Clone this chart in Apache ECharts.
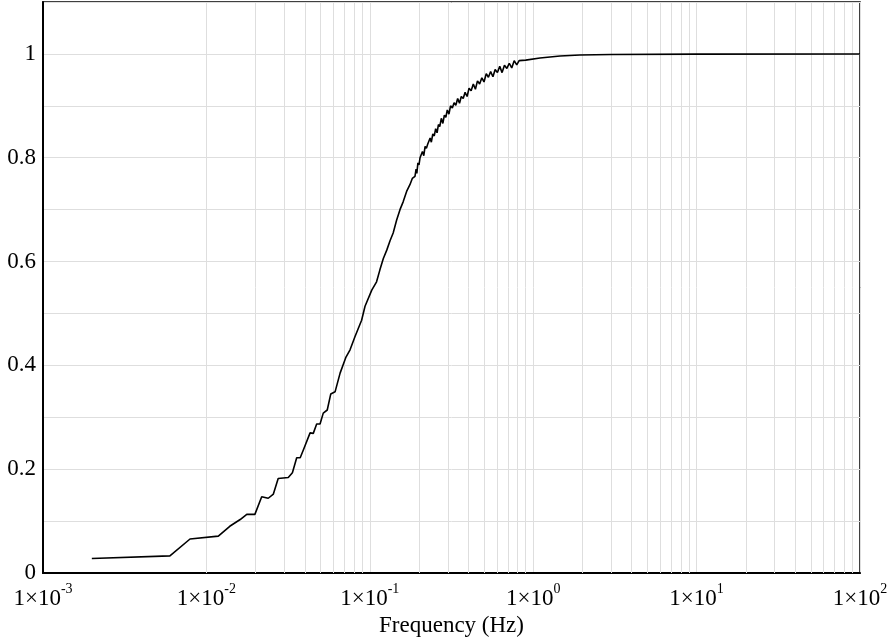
<!DOCTYPE html>
<html>
<head>
<meta charset="utf-8">
<script src="https://cdn.jsdelivr.net/npm/echarts@6/dist/echarts.min.js"></script>
<style>
html,body{margin:0;padding:0;background:#fff;}
#chart{width:892px;height:638px;}
</style>
</head>
<body>
<div id="chart"></div>
<script>
// Frequency (Hz)
var frequency = [
  0.00199, 0.00598, 0.00794, 0.01183, 0.0139, 0.0161, 0.01766, 0.0198, 0.0218, 0.0239,
  0.0257, 0.0275, 0.0317, 0.0336, 0.0357, 0.0375, 0.0392, 0.0431, 0.0451, 0.0473,
  0.0496, 0.0519, 0.0549, 0.0577, 0.0613, 0.0658, 0.0715, 0.0757, 0.0811, 0.0891,
  0.0935, 0.0958, 0.1028, 0.110, 0.1153, 0.121, 0.127, 0.133, 0.139, 0.146,
  0.153, 0.160, 0.168, 0.176, 0.182, 0.189, 0.192, 0.194, 0.197, 0.200,
  0.203, 0.206, 0.210, 0.214, 0.218, 0.222, 0.226, 0.230, 0.234, 0.238,
  0.243, 0.248, 0.253, 0.258, 0.263, 0.268, 0.274, 0.280, 0.286, 0.292,
  0.298, 0.305, 0.312, 0.320, 0.328, 0.336, 0.345, 0.354, 0.363, 0.373,
  0.383, 0.394, 0.405, 0.417, 0.430, 0.443, 0.456, 0.470, 0.485, 0.500,
  0.516, 0.532, 0.549, 0.567, 0.585, 0.604, 0.624, 0.645, 0.667, 0.690,
  0.714, 0.739, 0.765, 0.793, 0.82, 0.9, 1.10, 1.46, 1.93, 3,
  10, 100
];
var response = [
  0.028, 0.033, 0.0655, 0.071, 0.090, 0.103, 0.113, 0.113, 0.147, 0.144,
  0.152, 0.182, 0.184, 0.193, 0.222, 0.222, 0.237, 0.270, 0.269, 0.287,
  0.287, 0.308, 0.314, 0.345, 0.349, 0.385, 0.416, 0.430, 0.455, 0.487,
  0.514, 0.516, 0.545, 0.561, 0.584, 0.606, 0.622, 0.640, 0.655, 0.680,
  0.700, 0.715, 0.735, 0.748, 0.760, 0.764, 0.778, 0.770, 0.790, 0.786,
  0.800, 0.797, 0.812, 0.804, 0.822, 0.818, 0.826, 0.824, 0.838, 0.830,
  0.846, 0.842, 0.856, 0.848, 0.864, 0.860, 0.876, 0.866, 0.882, 0.878,
  0.892, 0.884, 0.900, 0.896, 0.906, 0.901, 0.914, 0.905, 0.918, 0.914,
  0.926, 0.918, 0.934, 0.929, 0.942, 0.932, 0.948, 0.942, 0.954, 0.946,
  0.962, 0.955, 0.966, 0.956, 0.970, 0.964, 0.976, 0.964, 0.978, 0.972,
  0.982, 0.973, 0.987, 0.979, 0.987, 0.988, 0.992, 0.996, 0.998, 0.999,
  0.9995, 0.9998
];
var xMin = 0.001, xMax = 100;
var yTickLabels = ['0', '0.2', '0.4', '0.6', '0.8', '1'];

var FONT = "'Liberation Serif','Times New Roman',serif";
var GRID_COLOR = '#dedede';

// minor log gridline positions (2..9 per decade)
var minorGrid = [];
for (var e = -3; e < 2; e++) {
  for (var m = 2; m <= 9; m++) minorGrid.push({ xAxis: m * Math.pow(10, e) });
}

var data = frequency.map(function (f, i) { return [f, response[i]]; });

var chart = echarts.init(document.getElementById('chart'), null, { renderer: 'canvas' });
chart.setOption({
  animation: false,
  backgroundColor: '#fff',
  grid: { left: 43, right: 32, top: 2, bottom: 65, outerBoundsMode: 'none', containLabel: false,
          show: true, borderColor: '#000', borderWidth: 1.5, backgroundColor: '#fff' },
  xAxis: {
    type: 'log', logBase: 10, min: xMin, max: xMax,
    name: 'Frequency (Hz)', nameLocation: 'middle', nameGap: 33,
    nameTextStyle: { fontFamily: FONT, fontSize: 23, color: '#000' },
    axisLine: { show: true, lineStyle: { color: '#000', width: 2 } },
    axisTick: { show: false },
    splitLine: { show: true, lineStyle: { color: GRID_COLOR, width: 1 } },
    axisLabel: {
      margin: 9,
      formatter: function (v) {
        var ex = Math.round(Math.log10(v));
        return '{b|1×10}{s|' + ex + '}';
      },
      rich: {
        b: { fontFamily: FONT, fontSize: 23, color: '#000', lineHeight: 28, verticalAlign: 'bottom' },
        s: { fontFamily: FONT, fontSize: 14, color: '#000', lineHeight: 14, verticalAlign: 'top' }
      }
    }
  },
  yAxis: {
    type: 'value', min: 0, max: 1.1, interval: 0.1,
    axisLine: { show: true, lineStyle: { color: '#000', width: 2 } },
    axisTick: { show: false },
    splitLine: { show: true, lineStyle: { color: GRID_COLOR, width: 1 } },
    axisLabel: {
      margin: 7, fontFamily: FONT, fontSize: 23, color: '#000',
      formatter: function (v) {
        var k = Math.round(v * 10);
        if (k % 2 !== 0) return '';
        return yTickLabels[k / 2] || '';
      }
    }
  },
  series: [
    {
      type: 'line', data: [], silent: true,
      markLine: {
        silent: true, symbol: ['none', 'none'], label: { show: false },
        lineStyle: { color: GRID_COLOR, width: 1, type: 'solid' },
        data: minorGrid, animation: false
      },
      z: 1
    },
    {
      type: 'line', data: data, showSymbol: false, symbol: 'none',
      lineStyle: { color: '#000', width: 1.6 },
      z: 5
    }
  ]
});
</script>
</body>
</html>
